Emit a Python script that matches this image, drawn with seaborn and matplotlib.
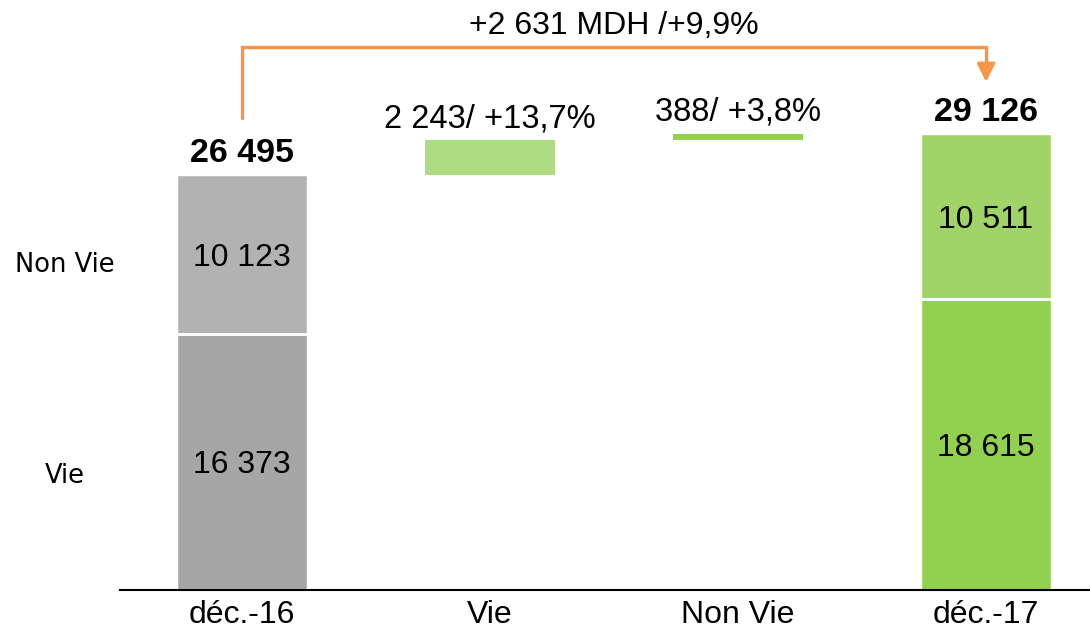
import numpy as np
import pandas as pd
import matplotlib.pyplot as plt
import seaborn as sns

# Data
categories = ['déc.-16', 'Vie', 'Non Vie', 'déc.-17']
period_labels = ['déc.-16', 'déc.-17']
vie_values = [16373, 18615]
nonvie_values = [10123, 10511]
totals = [26495, 29126]
delta_values = [2243, 388]
delta_pct = ['+13,7%', '+3,8%']
total_change = '+2 631 MDH /+9,9%'

def fmt(v):
    return f'{v:,}'.replace(',', ' ')

sns.set_theme(style="white")
plt.rcParams['font.family'] = ['Liberation Sans', 'DejaVu Sans']
plt.rcParams['text.color'] = 'black'
plt.rcParams['xtick.color'] = 'black'

fig = plt.figure(figsize=(10.9, 6.3), dpi=100)
ax = fig.add_axes([120 / 1090, 40 / 630, 970 / 1090, 590 / 630])

bar_w = 0.524
df = pd.DataFrame({'period': period_labels, 'total': totals, 'vie': vie_values})

# full (Non Vie on top) then Vie part
sns.barplot(data=df, x='period', y='total', order=categories, hue='period',
            palette=['#B2B2B2', '#A0D468'], legend=False, width=bar_w,
            saturation=1, ax=ax)
sns.barplot(data=df, x='period', y='vie', order=categories, hue='period',
            palette=['#A6A6A6', '#92D050'], legend=False, width=bar_w,
            saturation=1, ax=ax)

pos = [0, 3]
for p, v, nv, t in zip(pos, vie_values, nonvie_values, totals):
    ax.hlines(v, p - bar_w / 2, p + bar_w / 2, color='white', lw=2, zorder=5)
    ax.text(p, v / 2, fmt(v), ha='center', va='center_baseline', fontsize=23)
    ax.text(p, v + nv / 2, fmt(nv), ha='center', va='center_baseline', fontsize=23)
    ax.annotate(fmt(t), (p, t), xytext=(0, 18), textcoords='offset points',
                ha='center', va='center_baseline', fontsize=24.5, fontweight='bold')

# waterfall deltas
bottom = totals[0]
delta_colors = ['#AEDC82', '#92D050']
for i, (d, pct, c) in enumerate(zip(delta_values, delta_pct, delta_colors)):
    x = i + 1
    ax.bar(x, d, bottom=bottom, width=bar_w, color=c, linewidth=0)
    ax.annotate(f'{fmt(d)}/ {pct}', (x, bottom + d), xytext=(0, 18),
                textcoords='offset points', ha='center', va='center_baseline',
                fontsize=23.5)
    bottom += d

# orange connector arrow
y_start = totals[0] * 1.138
y_line = totals[0] * 1.309
y_tip = totals[1] * 1.114
orange = '#F79646'
ax.plot([0, 0, 3, 3], [y_start, y_line, y_line, y_tip + 900], color=orange, lw=2.4,
        solid_joinstyle='miter', clip_on=False)
ax.annotate('', xy=(3, y_tip), xytext=(3, y_tip + 1000),
            arrowprops=dict(arrowstyle='-|>,head_width=0.45,head_length=0.9',
                            color=orange, lw=2.4, shrinkA=0, shrinkB=0))
ax.text(1.5, totals[0] * 1.369, total_change, ha='center', va='center_baseline',
        fontsize=23)

ax.set_ylim(0, 37680)
ax.set_xlim(-0.492, 3.419)
ax.set_yticks([])
ax.set_xlabel('')
ax.set_ylabel('')
ax.set_xticks(range(len(categories)))
ax.set_xticklabels(categories, fontsize=23)
ax.tick_params(axis='x', length=0, pad=7)
for s in ['top', 'right', 'left']:
    ax.spines[s].set_visible(False)
ax.spines['bottom'].set_color('black')
ax.spines['bottom'].set_linewidth(1.5)

# side labels
fig.text(65 / 1090, 1 - 262 / 630, 'Non Vie', ha='center', va='center_baseline',
         fontsize=18.5, family='DejaVu Sans')
fig.text(65 / 1090, 1 - 473 / 630, 'Vie', ha='center', va='center_baseline',
         fontsize=18.5, family='DejaVu Sans')

fig.savefig('out.png', dpi=100)
